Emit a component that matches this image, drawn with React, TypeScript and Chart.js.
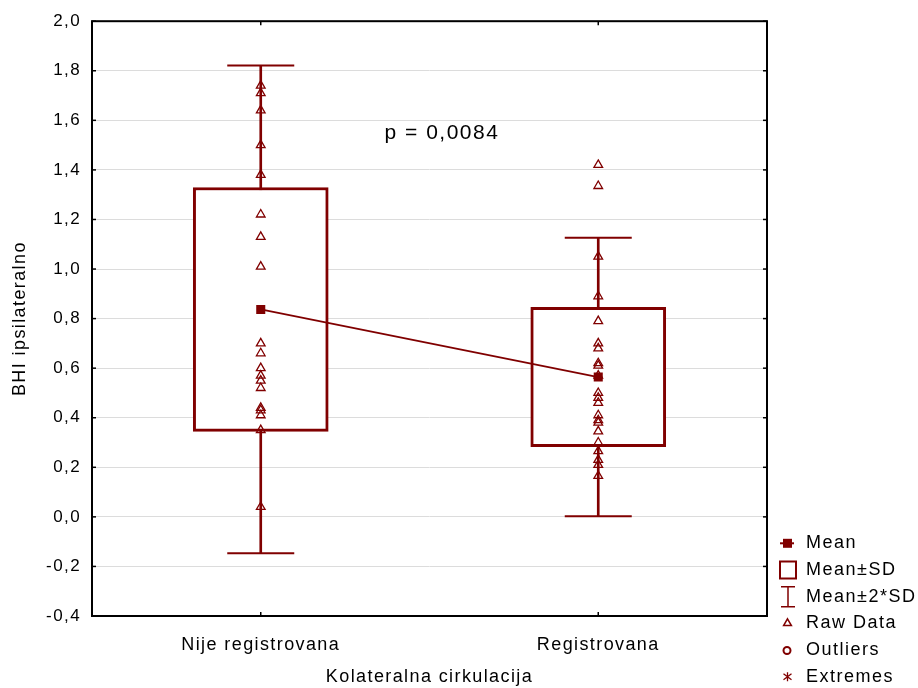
import React, { useEffect, useRef } from 'react';
import { Chart, registerables } from 'chart.js';

Chart.register(...registerables);

// ---------- data ----------
const categories = ['Nije registrovana', 'Registrovana'];
const means = [0.837, 0.564];
const sds = [0.492, 0.281];
const rawNijeRegistrovana = [
  1.74, 1.71, 1.64, 1.5, 1.38, 1.22, 1.13, 1.01, 0.7, 0.66, 0.6, 0.57, 0.55, 0.52, 0.44, 0.43, 0.41, 0.35, 0.04,
];
const rawRegistrovana = [
  1.42, 1.335, 1.05, 0.89, 0.79, 0.7, 0.68, 0.62, 0.61, 0.57, 0.5, 0.48, 0.46, 0.41, 0.39, 0.38, 0.345, 0.3, 0.265,
  0.23, 0.21, 0.165,
];
const yMin = -0.4;
const yMax = 2.0;
const yStep = 0.2;
const xTitle = 'Kolateralna cirkulacija';
const yTitle = 'BHI ipsilateralno';
const pValueLabel = 'p = 0,0084';
const pValuePosition = { x: 0.537, y: 1.55 };
const legendLabels = ['Mean', 'Mean±SD', 'Mean±2*SD', 'Raw Data', 'Outliers', 'Extremes'];

// ---------- style ----------
const RED = '#800000';
const FONT = "'Liberation Sans', Arial, Helvetica, sans-serif";
const SPACING = '1.4px';

const fmt = (v: number) => (Math.round(v * 10) / 10).toFixed(1).replace('.', ',');

const spacingPlugin = {
  id: 'letterSpacingPlugin',
  beforeUpdate(chart: any) {
    chart.ctx.letterSpacing = SPACING;
  },
  beforeLayout(chart: any) {
    chart.ctx.letterSpacing = SPACING;
  },
  beforeDraw(chart: any) {
    chart.ctx.letterSpacing = SPACING;
  },
};

const framePlugin = {
  id: 'framePlugin',
  afterDraw(chart: any) {
    const ctx = chart.ctx as CanvasRenderingContext2D;
    const { left, right, top, bottom } = chart.chartArea;
    const ys = chart.scales.y;
    const xs = chart.scales.x;
    ctx.save();
    ctx.strokeStyle = '#000';
    ctx.lineWidth = 2;
    ctx.strokeRect(left, top, right - left, bottom - top);
    ctx.lineWidth = 1.5;
    const seg = (x1: number, y1: number, x2: number, y2: number) => {
      ctx.beginPath();
      ctx.moveTo(x1, y1);
      ctx.lineTo(x2, y2);
      ctx.stroke();
    };
    ys.ticks.forEach((t: any) => {
      const y = ys.getPixelForValue(t.value);
      seg(left, y, left + 4, y);
      seg(right, y, right - 4, y);
    });
    categories.forEach((_c, i) => {
      const x = xs.getPixelForValue(i);
      seg(x, bottom, x, bottom - 4);
      seg(x, top, x, top + 4);
    });

    // p-value annotation
    ctx.fillStyle = '#000';
    ctx.font = `21px ${FONT}`;
    (ctx as any).letterSpacing = '1.5px';
    ctx.textAlign = 'center';
    ctx.textBaseline = 'middle';
    ctx.fillText(pValueLabel, xs.getPixelForValue(pValuePosition.x), ys.getPixelForValue(pValuePosition.y));
    ctx.restore();
  },
};

const legendPlugin = {
  id: 'customLegend',
  afterDraw(chart: any) {
    const ctx = chart.ctx as CanvasRenderingContext2D;
    const rowY = [543.3, 570, 596.7, 623.3, 650.5, 676.7];
    const iconX = 787.5;
    const textX = 806;
    ctx.save();
    ctx.strokeStyle = RED;
    ctx.fillStyle = RED;
    // Mean
    ctx.lineWidth = 2;
    ctx.beginPath();
    ctx.moveTo(780, rowY[0]);
    ctx.lineTo(794, rowY[0]);
    ctx.stroke();
    ctx.fillRect(iconX - 4.5, rowY[0] - 4.5, 9, 9);
    // Mean±SD
    ctx.lineWidth = 2;
    ctx.strokeRect(780, rowY[1] - 8.5, 16, 17);
    // Mean±2*SD
    ctx.lineWidth = 1.5;
    ctx.beginPath();
    ctx.moveTo(781, rowY[2] - 10);
    ctx.lineTo(795, rowY[2] - 10);
    ctx.moveTo(788, rowY[2] - 10);
    ctx.lineTo(788, rowY[2] + 10);
    ctx.moveTo(781, rowY[2] + 10);
    ctx.lineTo(795, rowY[2] + 10);
    ctx.stroke();
    // Raw Data triangle
    ctx.lineWidth = 1.5;
    const r = 4.5;
    ctx.beginPath();
    ctx.moveTo(iconX, rowY[3] - r);
    ctx.lineTo(iconX + r * 0.866, rowY[3] + r / 2);
    ctx.lineTo(iconX - r * 0.866, rowY[3] + r / 2);
    ctx.closePath();
    ctx.stroke();
    // Outliers circle
    ctx.lineWidth = 2;
    ctx.beginPath();
    ctx.arc(iconX - 0.5, rowY[4], 3.5, 0, Math.PI * 2);
    ctx.stroke();
    // Extremes asterisk
    ctx.lineWidth = 1.3;
    ctx.beginPath();
    ctx.moveTo(iconX, rowY[5] - 4.5);
    ctx.lineTo(iconX, rowY[5] + 4.5);
    ctx.moveTo(iconX - 4, rowY[5] - 3);
    ctx.lineTo(iconX + 4, rowY[5] + 3);
    ctx.moveTo(iconX + 4, rowY[5] - 3);
    ctx.lineTo(iconX - 4, rowY[5] + 3);
    ctx.stroke();

    ctx.fillStyle = '#000';
    ctx.font = `18px ${FONT}`;
    (ctx as any).letterSpacing = '1.5px';
    ctx.textAlign = 'left';
    ctx.textBaseline = 'middle';
    legendLabels.forEach((t, i) => ctx.fillText(t, textX, rowY[i]));
    ctx.restore();
  },
};

export default function App() {
  const canvasRef = useRef<HTMLCanvasElement | null>(null);

  useEffect(() => {
    if (!canvasRef.current) return;
    const boxData = means.map((m, i) => [m - sds[i], m + sds[i]]);
    const whiskerData = means.map((m, i) => [m - 2 * sds[i], m + 2 * sds[i]]);
    const capData: { x: string; y: number }[] = [];
    means.forEach((m, i) => {
      capData.push({ x: categories[i], y: m + 2 * sds[i] });
      capData.push({ x: categories[i], y: m - 2 * sds[i] });
    });
    const rawData = [
      ...rawNijeRegistrovana.map((v) => ({ x: categories[0], y: v })),
      ...rawRegistrovana.map((v) => ({ x: categories[1], y: v })),
    ];

    const chart = new Chart(canvasRef.current, {
      type: 'bar',
      data: {
        labels: categories,
        datasets: [
          {
            type: 'bar',
            label: 'Mean±2*SD',
            data: whiskerData as any,
            backgroundColor: RED,
            borderWidth: 0,
            barThickness: 2,
            grouped: false,
            order: 6,
          } as any,
          {
            type: 'line',
            label: 'caps',
            data: capData as any,
            showLine: false,
            pointStyle: 'line',
            pointRadius: 33.5,
            pointBorderWidth: 2,
            pointBorderColor: RED,
            borderColor: RED,
            order: 5,
          } as any,
          {
            type: 'bar',
            label: 'Mean±SD',
            data: boxData as any,
            backgroundColor: '#ffffff',
            borderColor: RED,
            borderWidth: 3,
            borderSkipped: false,
            barThickness: 135,
            grouped: false,
            order: 4,
          } as any,
          {
            type: 'line',
            label: 'Raw Data',
            data: rawData as any,
            showLine: false,
            pointStyle: 'triangle',
            pointRadius: 5,
            pointBorderWidth: 1.3,
            pointBorderColor: RED,
            pointBackgroundColor: 'rgba(0,0,0,0)',
            borderColor: RED,
            order: 2,
          } as any,
          {
            type: 'line',
            label: 'Mean',
            data: means,
            borderColor: RED,
            borderWidth: 1.8,
            tension: 0,
            pointStyle: 'rect',
            pointRadius: 6.4,
            pointBorderWidth: 0,
            pointBackgroundColor: RED,
            order: 1,
          } as any,
        ],
      },
      options: {
        animation: false,
        responsive: false,
        maintainAspectRatio: false,
        events: [],
        layout: { autoPadding: false, padding: { top: 19, right: 151, bottom: 0, left: 0 } },
        plugins: {
          legend: { display: false },
          tooltip: { enabled: false },
        },
        scales: {
          x: {
            type: 'category',
            offset: true,
            grid: { display: false },
            border: { display: false },
            ticks: {
              color: '#000',
              font: { family: FONT, size: 18 },
              padding: 10,
              maxRotation: 0,
              autoSkip: false,
            },
            title: {
              display: true,
              text: xTitle,
              color: '#000',
              font: { family: FONT, size: 18 },
              padding: { top: 0, bottom: 0 },
            },
            afterFit: (scale: any) => {
              scale.height = 72;
            },
          },
          y: {
            type: 'linear',
            min: yMin,
            max: yMax,
            grid: { color: '#dcdcdc', lineWidth: 1, drawTicks: false },
            border: { display: false },
            ticks: {
              stepSize: yStep,
              color: '#000',
              font: { family: FONT, size: 17 },
              padding: 11,
              callback: (v: any) => fmt(Number(v)),
            },
            title: {
              display: true,
              text: yTitle,
              color: '#000',
              font: { family: FONT, size: 18 },
              padding: { top: 9, bottom: 0 },
            },
            afterFit: (scale: any) => {
              scale.width = 92;
            },
          },
        },
      } as any,
      plugins: [spacingPlugin, framePlugin, legendPlugin],
    });

    return () => chart.destroy();
  }, []);

  return (
    <div style={{ position: 'fixed', left: 0, top: 0, width: 918, height: 688, background: '#fff' }}>
      <canvas ref={canvasRef} width={918} height={688} style={{ width: 918, height: 688, display: 'block' }} />
    </div>
  );
}
